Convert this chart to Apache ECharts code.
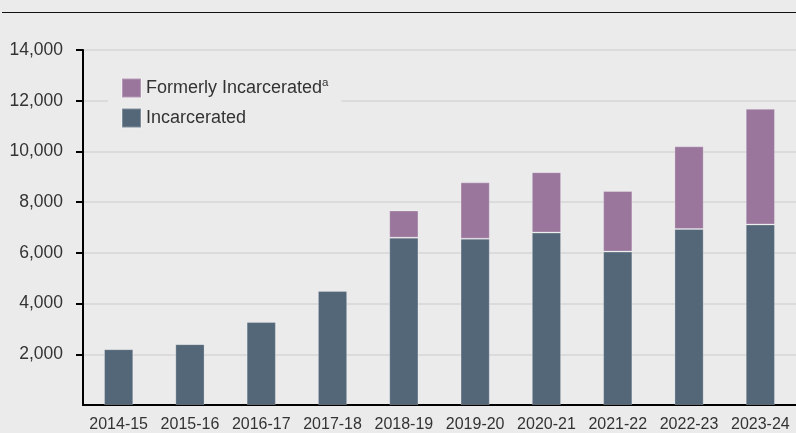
<!DOCTYPE html>
<html>
<head>
<meta charset="utf-8">
<script src="https://cdn.jsdelivr.net/npm/echarts@6/dist/echarts.min.js"></script>
<style>
  html, body { margin: 0; padding: 0; background: #ebebeb; }
  #chart { width: 796px; height: 433px; }
</style>
</head>
<body>
<div id="chart"></div>
<script>
// Fiscal years on the category axis
const years = ['2014-15', '2015-16', '2016-17', '2017-18', '2018-19',
               '2019-20', '2020-21', '2021-22', '2022-23', '2023-24'];
// Students currently incarcerated
const incarcerated = [2200, 2400, 3270, 4500, 6600, 6560, 6800, 6050, 6940, 7120];
// Formerly incarcerated students (stacked on top)
const formerlyIncarcerated = [null, null, null, null, 1070, 2220, 2380, 2390, 3260, 4560];
// Value-axis ticks that carry a label
const yTicks = [2000, 4000, 6000, 8000, 10000, 12000, 14000];

const FONT = '"Liberation Sans", Arial, sans-serif';
const TEXT = '#333333';
const barBorder = { borderColor: 'rgba(255,255,255,0.25)', borderWidth: 1 };

const chart = echarts.init(document.getElementById('chart'), null, { renderer: 'canvas' });

chart.setOption({
  backgroundColor: '#ebebeb',
  animation: false,
  textStyle: { fontFamily: FONT, color: TEXT },
  graphic: [{
    type: 'line',
    shape: { x1: 2, y1: 12.5, x2: 796, y2: 12.5 },
    style: { stroke: '#111', lineWidth: 1.2 }
  }],
  grid: { left: 83, right: 0, top: 50, bottom: 28, containLabel: false },
  legend: {
    orient: 'vertical',
    left: 108,
    top: 69,
    padding: [8, 13, 8, 13],
    backgroundColor: '#ebebeb',
    icon: 'rect',
    itemWidth: 19,
    itemHeight: 19,
    itemGap: 9,
    selectedMode: false,
    data: ['Formerly Incarcerated', 'Incarcerated'],
    formatter: function (name) {
      return name === 'Formerly Incarcerated'
        ? '{n|Formerly Incarcerated}{s|a}'
        : '{n|Incarcerated}';
    },
    textStyle: {
      fontFamily: FONT,
      color: TEXT,
      rich: {
        n: { fontSize: 18, fontFamily: FONT, color: TEXT, lineHeight: 22 },
        s: { fontSize: 11.5, fontFamily: FONT, color: TEXT, verticalAlign: 'top', lineHeight: 12 }
      }
    }
  },
  xAxis: {
    type: 'category',
    data: years,
    axisLine: { show: true, lineStyle: { color: '#000', width: 2 } },
    axisTick: { show: false },
    axisLabel: { interval: 0, color: TEXT, fontSize: 16, fontFamily: FONT, margin: 12 }
  },
  yAxis: {
    type: 'value',
    min: 0,
    max: 14000,
    interval: 2000,
    axisLine: { show: true, lineStyle: { color: '#000', width: 2 } },
    axisTick: { show: true, length: 7, customValues: yTicks, lineStyle: { color: '#000', width: 2 } },
    axisLabel: {
      customValues: yTicks,
      color: TEXT,
      fontSize: 17.5,
      fontFamily: FONT,
      margin: 20,
      formatter: v => v.toLocaleString('en-US')
    },
    splitLine: { show: true, lineStyle: { color: '#d6d6d6', width: 1.6 } }
  },
  series: [
    {
      name: 'Incarcerated',
      type: 'bar',
      stack: 'total',
      data: incarcerated,
      barWidth: '41%',
      itemStyle: Object.assign({ color: '#536779' }, barBorder)
    },
    {
      name: 'Formerly Incarcerated',
      type: 'bar',
      stack: 'total',
      data: formerlyIncarcerated,
      barWidth: '41%',
      itemStyle: Object.assign({ color: '#9a769c' }, barBorder)
    }
  ]
});
</script>
</body>
</html>
